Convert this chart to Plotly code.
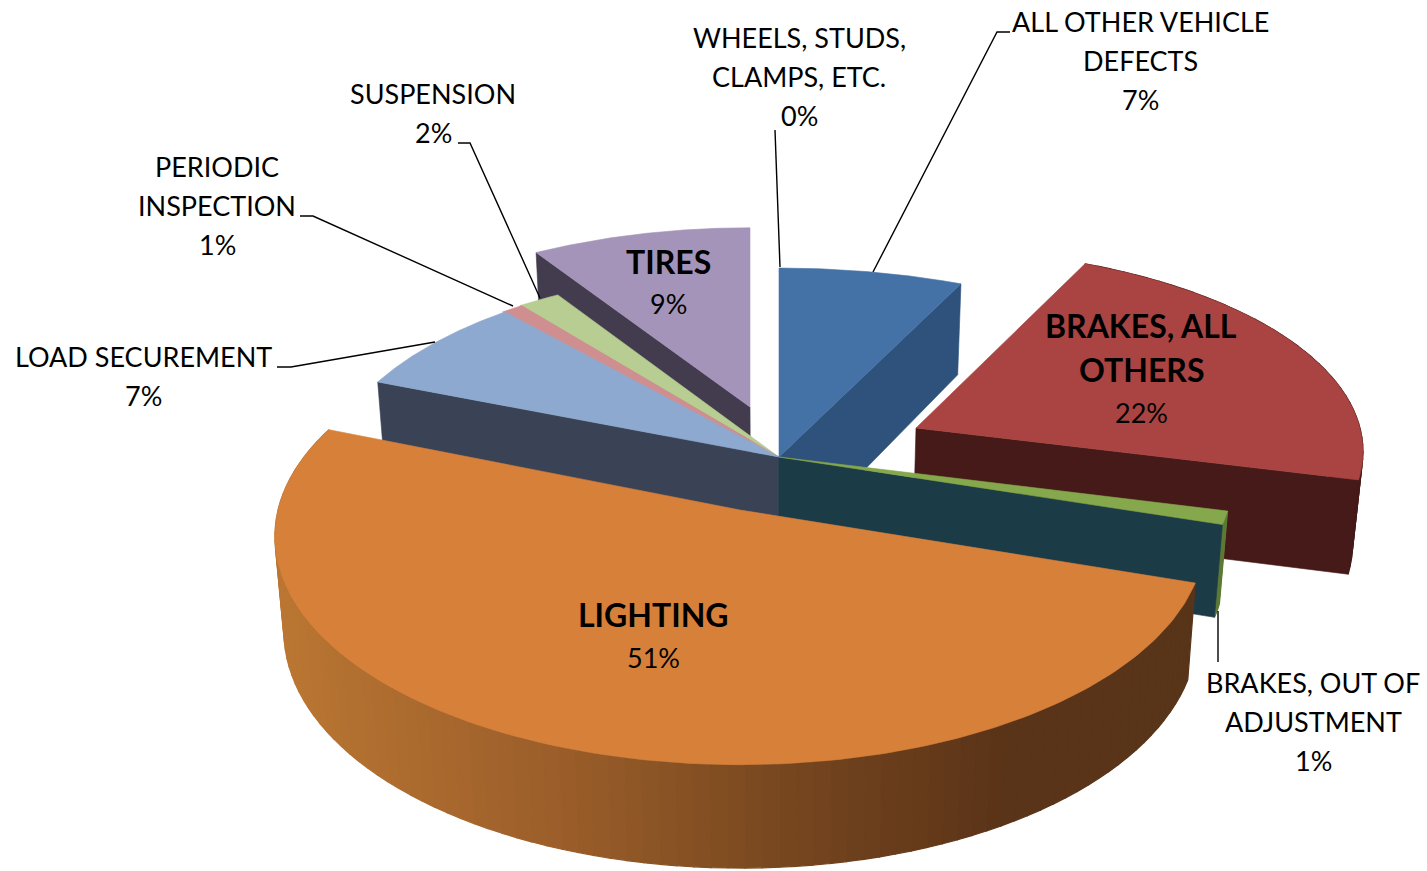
import numpy as np
import plotly.graph_objects as go

# ---- data (percent of defects, clockwise from 12 o'clock) ----
categories = ["ALL OTHER VEHICLE DEFECTS", "BRAKES, ALL OTHERS", "BRAKES, OUT OF ADJUSTMENT",
              "LIGHTING", "LOAD SECUREMENT", "PERIODIC INSPECTION", "SUSPENSION", "TIRES",
              "WHEELS, STUDS, CLAMPS, ETC."]
values = [7.0, 22.0, 1.0, 51.0, 7.4, 0.9, 1.7, 9.0, 0.0]

# ---- 3-D look: per-slice explosion and projection ----
top_colors = ["#4472A6", "#A94442", "#86A84C", "#D6803A", "#8EA9CF", "#CF8F90", "#B7CD92", "#A594B9", "#4472A6"]
wall_colors = ["#2E527B", "#451A18", "#1B3B47", None, "#3A4255", "#3A4255", "#3A4255", "#433C4E", None]
rim_colors = [None, "#451A18", "#5E7A35", "gradient", None, None, None, None, None]
apex_x = [779, 916, 779, 740, 779, 779, 779, 750, 779]
apex_y = [457, 428, 457, 510, 457, 457, 457, 407, 457]
radius_x = [478, 444, 450, 462, 451, 455, 458, 443, 460]
radius_y = [214, 203, 211, 228, 213, 213, 213, 203, 213]
wall_side = ["end", "end", "end", None, "start", None, None, "start", None]
wall_h = [100, 92, 90, 94, 93, 93, 93, 93, 93]
draw_order = [7, 6, 5, 4, 0, 1, 2, 3]
PERSP, HPERSP, VX, SHRINK = 0.117, 0.10, 779, 0.018

grad_x = [275, 560, 800, 1000, 1190]
grad_r = [187, 155, 117, 91, 88]
grad_g = [119, 94, 70, 52, 52]
grad_b = [51, 42, 31, 24, 26]


def rim_top(i, th):
    s = 1 - PERSP * np.cos(th)
    return apex_x[i] + radius_x[i] * s * np.sin(th), apex_y[i] - radius_y[i] * s * np.cos(th)


def to_bottom(i, x, y, th=None):
    s = 1.0 if th is None else 1 - HPERSP * np.cos(th)
    return x + (VX - x) * SHRINK, y + wall_h[i] * s


def poly(xs, ys, color, lw=0.6):
    return go.Scatter(x=list(xs), y=list(ys), mode="lines", fill="toself", fillcolor=color,
                      line=dict(color=color, width=lw), hoverinfo="skip", showlegend=False)


fig = go.Figure()
cum = np.concatenate([[0], np.cumsum(values)]) / sum(values) * 2 * np.pi

for i in draw_order:
    a0, a1 = cum[i], cum[i + 1]
    ths = np.linspace(a0, a1, max(int((a1 - a0) * 30), 8))
    ax, ay = apex_x[i], apex_y[i]
    if rim_colors[i] is not None:
        for k in range(len(ths) - 1):
            sub = np.linspace(ths[k], ths[k + 1], 4)
            tx, ty = rim_top(i, sub)
            bx, by = to_bottom(i, tx, ty, sub)
            if rim_colors[i] == "gradient":
                xm = float(np.mean(tx))
                c = "rgb(%d,%d,%d)" % (np.interp(xm, grad_x, grad_r), np.interp(xm, grad_x, grad_g),
                                       np.interp(xm, grad_x, grad_b))
            else:
                c = rim_colors[i]
            fig.add_trace(poly(np.r_[tx, bx[::-1], tx[0]], np.r_[ty, by[::-1], ty[0]], c, lw=1.2))
    if wall_side[i]:
        t = a1 if wall_side[i] == "end" else a0
        x, y = rim_top(i, t)
        bx, by = to_bottom(i, x, y, t)
        bax, bay = to_bottom(i, ax, ay)
        fig.add_trace(poly([ax, x, bx, bax, ax], [ay, y, by, bay, ay], wall_colors[i]))
    xs, ys = rim_top(i, np.linspace(a0, a1, 200))
    fig.add_trace(poly(np.r_[ax, xs, ax], np.r_[ay, ys, ay], top_colors[i]))

# ---- leader lines ----
leaders = [
    ([775, 780], [130, 267]),
    ([1010, 997, 873], [32, 32, 272]),
    ([458, 470, 540], [143, 143, 298]),
    ([300, 313, 513], [216, 216, 306]),
    ([277, 291, 435], [367, 367, 342]),
    ([1218, 1218], [611, 662]),
]
for lx, ly in leaders:
    fig.add_trace(go.Scatter(x=lx, y=ly, mode="lines", line=dict(color="#000000", width=1.4),
                             hoverinfo="skip", showlegend=False))

# ---- labels ----
pct = ["%d%%" % round(v) for v in values]
FONT = "Lato"
SZ, SZB = 27, 32
labels = [
    (["WHEELS, STUDS,", "CLAMPS, ETC.", pct[8]], 799, [37, 76, 115], False),
    (["ALL OTHER VEHICLE", "DEFECTS", pct[0]], 1140, [21, 60, 99], False),
    (["SUSPENSION", pct[6]], 433, [93, 132], False),
    (["PERIODIC", "INSPECTION", pct[5]], 217, [166, 205, 244], False),
    (["LOAD SECUREMENT", pct[4]], 143, [356, 395], False),
    (["BRAKES, OUT OF", "ADJUSTMENT", pct[2]], 1313, [682, 721, 760], False),
    (["TIRES", pct[7]], 668, [261, 303], True),
    (["BRAKES, ALL", "OTHERS", pct[1]], 1141, [325, 369, 412], True),
    (["LIGHTING", pct[3]], 653, [614, 657], True),
]
for lines, x, ys, bold in labels:
    for ln, y in zip(lines, ys):
        is_head = bold and not ln.endswith("%")
        fig.add_annotation(x=x, y=y, xref="x", yref="y", showarrow=False, xanchor="center", yanchor="middle",
                           text=("<b>%s</b>" % ln) if is_head else ln,
                           font=dict(family=FONT, size=SZB if is_head else SZ, color="#000000"))

fig.update_layout(width=1427, height=871, margin=dict(l=0, r=0, t=0, b=0), paper_bgcolor="white",
                  plot_bgcolor="white", showlegend=False,
                  xaxis=dict(range=[0, 1427], visible=False, fixedrange=True),
                  yaxis=dict(range=[871, 0], visible=False, fixedrange=True))
fig.write_html("out.html", config={"displayModeBar": False},
               post_script="document.body.style.margin='0';document.body.style.overflow='hidden';")
